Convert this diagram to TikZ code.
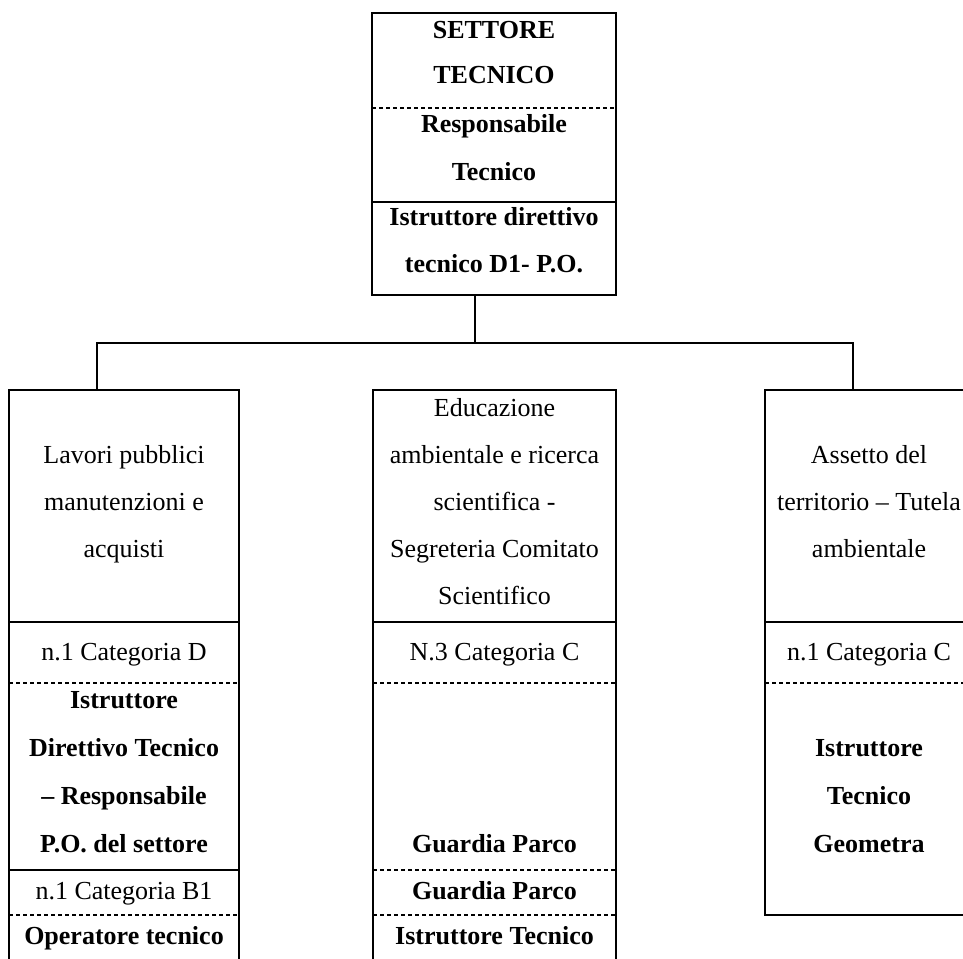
\documentclass[tikz,border=0pt]{standalone}
\usepackage{fontspec}
\setmainfont{Liberation Serif}
\begin{document}
\begin{tikzpicture}[x=0.5pt,y=-0.5pt,
  box/.style={draw,line width=1pt,anchor=north west,inner sep=0pt,outer sep=0pt},
  solidsep/.style={line width=1pt},
  dashsep/.style={line width=1pt,dash pattern=on 2pt off 1.5pt},
  conn/.style={line width=1pt},
  lbl/.style={font=\fontsize{13}{15}\selectfont,anchor=base,inner sep=0pt},
  blbl/.style={font=\fontsize{13}{15}\selectfont\bfseries,anchor=base,inner sep=0pt}]
\useasboundingbox (0,0) rectangle (963,958);
\clip (0,0) rectangle (963,958);
% boxes
\node[box,minimum width=122pt,minimum height=141pt] (top) at (372,13) {};
\node[box,minimum width=115pt,minimum height=305pt] (left) at (9,390) {};
\node[box,minimum width=121.5pt,minimum height=305pt] (mid) at (373,390) {};
\node[box,minimum width=104pt,minimum height=262.5pt] (right) at (765,390) {};
% separators top box
\draw[dashsep] (372,108) -- (616,108);
\draw[solidsep] (372,202) -- (616,202);
% separators left box
\draw[solidsep] (9,622) -- (239,622);
\draw[dashsep] (9,683) -- (239,683);
\draw[solidsep] (9,870) -- (239,870);
\draw[dashsep] (9,915) -- (239,915);
% separators middle box
\draw[solidsep] (373,622) -- (616,622);
\draw[dashsep] (373,683) -- (616,683);
\draw[dashsep] (373,870) -- (616,870);
\draw[dashsep] (373,915) -- (616,915);
% separators right box
\draw[solidsep] (765,622) -- (973,622);
\draw[dashsep] (765,683) -- (973,683);
% connectors
\coordinate (c0) at (475,295);
\coordinate (cb) at (475,343);
\coordinate (lb) at (97,343);
\coordinate (rb) at (853,343);
\coordinate (lt) at (97,390);
\coordinate (rt) at (853,390);
\draw[conn] (c0) -- (cb);
\draw[conn] (lt) -- (lb) -- (rb) -- (rt);
% top texts
\node[blbl] (t1) at (494,39) {SETTORE};
\node[blbl] (t2) at (494,83) {TECNICO};
\node[blbl] (t3) at (494,132) {Responsabile};
\node[blbl] (t4) at (494,180) {Tecnico};
\node[blbl] (t5) at (494,225) {Istruttore direttivo};
\node[blbl] (t6) at (494,272) {tecnico D1- P.O.};
% left texts
\node[lbl] (l1) at (124,463) {Lavori pubblici};
\node[lbl] (l2) at (124,510) {manutenzioni e};
\node[lbl] (l3) at (124,557) {acquisti};
\node[lbl] (l4) at (124,660) {n.1 Categoria D};
\node[blbl] (l5) at (124,708) {Istruttore};
\node[blbl] (l6) at (124,756) {Direttivo Tecnico};
\node[blbl] (l7) at (124,804) {– Responsabile};
\node[blbl] (l8) at (124,852) {P.O. del settore};
\node[lbl] (l9) at (124,899) {n.1 Categoria B1};
\node[blbl] (l10) at (124,944) {Operatore tecnico};
% middle texts
\node[lbl] (m1) at (494.5,416) {Educazione};
\node[lbl] (m2) at (494.5,463) {ambientale e ricerca};
\node[lbl] (m3) at (494.5,510) {scientifica -};
\node[lbl] (m4) at (494.5,557) {Segreteria Comitato};
\node[lbl] (m5) at (494.5,604) {Scientifico};
\node[lbl] (m6) at (494.5,660) {N.3 Categoria C};
\node[blbl] (m7) at (494.5,852) {Guardia Parco};
\node[blbl] (m8) at (494.5,899) {Guardia Parco};
\node[blbl] (m9) at (494.5,944) {Istruttore Tecnico};
% right texts
\node[lbl] (r1) at (869,463) {Assetto del};
\node[lbl] (r2) at (869,510) {territorio – Tutela};
\node[lbl] (r3) at (869,557) {ambientale};
\node[lbl] (r4) at (869,660) {n.1 Categoria C};
\node[blbl] (r5) at (869,756) {Istruttore};
\node[blbl] (r6) at (869,804) {Tecnico};
\node[blbl] (r7) at (869,852) {Geometra};
\end{tikzpicture}
\end{document}
